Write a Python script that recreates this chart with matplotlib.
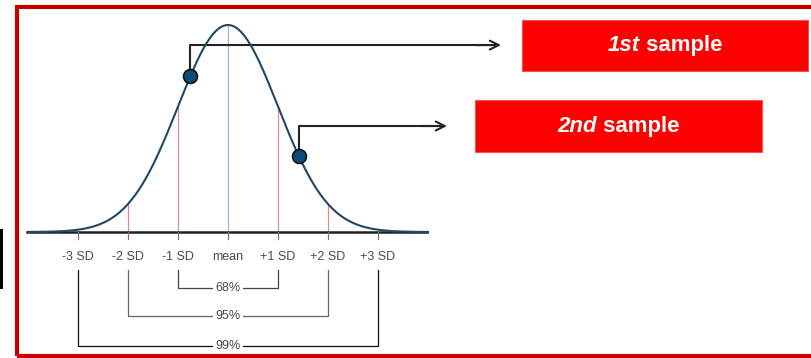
import numpy as np
import matplotlib
matplotlib.use('Agg')
import matplotlib.pyplot as plt
from matplotlib.patches import Rectangle

# normal curve, positions in SD units
sd_pos = [-3, -2, -1, 0, 1, 2, 3]
sd_labels = ['-3 SD', '-2 SD', '-1 SD', 'mean', '+1 SD', '+2 SD', '+3 SD']
shaded_sd = [-2, -1, 1, 2]
ranges = [(1, '68%'), (2, '95%'), (3, '99%')]
bracket_depth = [-0.27, -0.405, -0.55]
bracket_color = ['#444444', '#666666', '#111111']

# the two sample points (z score) and where their labels go
samples_z = [-0.75, 1.42]
samples_lbl = [('1st', ' sample'), ('2nd', ' sample')]
elbow_y = [0.903, 0.512]
arrow_x = [5.46, 4.38]
box_x = [(5.88, 11.6), (4.94, 10.68)]
box_y = [(0.778, 1.024), (0.386, 0.638)]

FONT = ['Liberation Sans Narrow', 'Liberation Sans', 'DejaVu Sans']

def dens(z):
    return np.exp(-0.5 * np.asarray(z) ** 2)

fig = plt.figure(figsize=(8.12, 3.58), dpi=100)
ax = fig.add_axes([0, 0, 1, 1])
ax.set_xlim(-228 / 50, (812 - 228) / 50)
ax.set_ylim(-126 / 207, 232 / 207)
ax.axis('off')

# frame and side bar
fig.patches.append(Rectangle((17 / 812, 2 / 358), 2, 349 / 358, transform=fig.transFigure,
                             fill=False, edgecolor='#c40000', linewidth=3.0, zorder=0))
fig.patches.append(Rectangle((0, 69 / 358), 3 / 812, 60 / 358, transform=fig.transFigure,
                             facecolor='black', edgecolor='none'))

# baseline + curve
zz = np.linspace(-4, 4, 400)
ax.plot([-4.02, 3.98], [0, 0], color='#222222', lw=1.8, zorder=2)
ax.plot(zz, dens(zz), color='#1d4866', lw=1.5, zorder=3)

for s in shaded_sd:
    ax.plot([s, s], [0, dens(s)], color='#e58b8b', lw=0.9, zorder=1)
ax.plot([0, 0], [0, 1], color='#9db6dc', lw=0.9, zorder=1)

for s, lab in zip(sd_pos, sd_labels):
    ax.plot([s, s], [0, -0.034], color='#777777', lw=0.9)
    ax.text(s, -0.121, lab, ha='center', va='center', fontsize=9,
            color='#4a4a4a', family=FONT)

# 68/95/99 brackets
for (k, lab), yb, c in zip(ranges, bracket_depth, bracket_color):
    ax.plot([-k, -k, k, k], [-0.184, yb, yb, -0.184], color=c, lw=0.9, zorder=2)
    ax.text(0, yb, lab, ha='center', va='center', fontsize=9, color='#4a4a4a',
            family=FONT, bbox=dict(facecolor='white', edgecolor='none', pad=2), zorder=3)

fig.canvas.draw()
rend = fig.canvas.get_renderer()

for z, ey, ax_x, (x0, x1), (y0, y1), (lab_a, lab_b) in zip(
        samples_z, elbow_y, arrow_x, box_x, box_y, samples_lbl):
    yz = float(dens(z))
    ax.plot([z, z, ax_x - 0.1], [yz, ey, ey], color='#222222', lw=1.5, zorder=2)
    ax.annotate('', xy=(ax_x, ey), xytext=(ax_x - 0.5, ey),
                arrowprops=dict(arrowstyle='->', color='#222222', lw=1.5,
                                mutation_scale=16, shrinkA=0, shrinkB=0))
    ax.plot([z], [yz], marker='o', ms=10, mfc='#0b4d7a', mec='#111111', mew=1.2, zorder=5)

    ax.add_patch(Rectangle((x0, y0), x1 - x0, y1 - y0, facecolor='#ff0000',
                           edgecolor='#ff5050', lw=0.8, zorder=4))
    cx, cy = (x0 + x1) / 2, (y0 + y1) / 2
    t1 = ax.text(cx, cy, lab_a, ha='left', va='center', fontsize=16, color='white',
                 fontweight='bold', fontstyle='italic', family=FONT, zorder=6)
    t2 = ax.text(cx, cy, lab_b, ha='left', va='center', fontsize=16, color='white',
                 fontweight='bold', family=FONT, zorder=6)
    w1 = t1.get_window_extent(rend).width
    w2 = t2.get_window_extent(rend).width
    px, py = ax.transData.transform((cx, cy))
    left = px - (w1 + w2) / 2
    inv = ax.transData.inverted()
    t1.set_position(inv.transform((left, py)))
    t2.set_position(inv.transform((left + w1, py)))

fig.savefig('out.png', dpi=100, facecolor='white')
